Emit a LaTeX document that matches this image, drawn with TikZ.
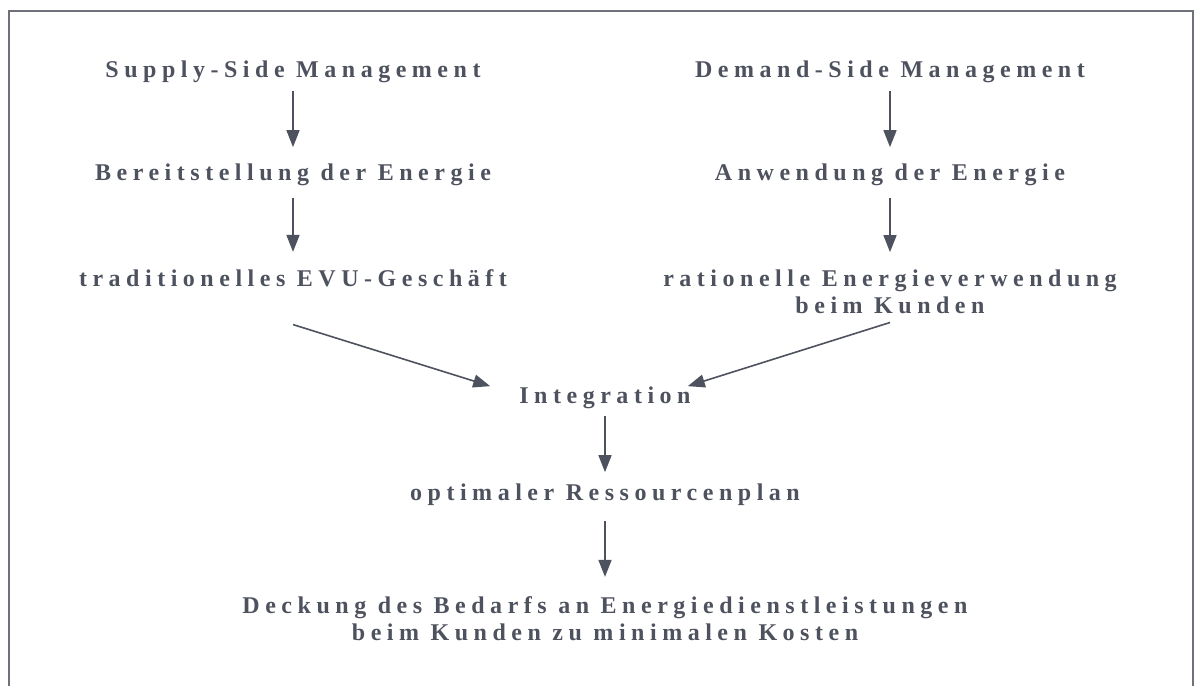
\documentclass[tikz,border=0pt]{standalone}
\usepackage{fontspec}
\setmainfont{Liberation Serif}
\newfontfamily\lsfont[LetterSpace=23]{Liberation Serif}
\usetikzlibrary{arrows.meta}
\definecolor{ink}{RGB}{78,82,94}
\definecolor{frame}{RGB}{110,112,122}
\begin{document}
\begin{tikzpicture}[x=1pt,y=-1pt,
  lbl/.style={anchor=base, inner sep=0pt, text=ink, align=center,
    font=\lsfont\bfseries\fontsize{24}{27}\selectfont},
  arr/.style={draw=ink, line width=1.6pt, -{Triangle[length=17pt,width=13pt]}}]
\useasboundingbox (0,0) rectangle (1196,686);
\draw[frame, line width=1.4pt] (9,686) -- (9,11) -- (1193,11) -- (1193,686);

\node[lbl] (s1) at (293,77) {Supply-Side Management};
\node[lbl] (d1) at (890,77) {Demand-Side Management};
\node[lbl] (s2) at (293,180) {Bereitstellung der Energie};
\node[lbl] (d2) at (890,180) {Anwendung der Energie};
\node[lbl] (s3) at (293,286) {traditionelles EVU-Geschäft};
\node[lbl] (d3) at (890,313) {rationelle Energieverwendung\\beim Kunden};
\node[lbl] (in) at (605,403) {Integration};
\node[lbl] (op) at (605,500) {optimaler Ressourcenplan};
\node[lbl] (de) at (605,640) {Deckung des Bedarfs an Energiedienstleistungen\\beim Kunden zu minimalen Kosten};

\draw[arr, shorten <=8pt, shorten >=16pt] (s1.south) -- (s2.north);
\draw[arr, shorten <=8pt, shorten >=16pt] (d1.south) -- (d2.north);
\draw[arr, shorten <=12pt, shorten >=17pt] (s2.south) -- (s3.north);
\draw[arr, shorten <=12pt, shorten >=17pt] (d2.south) -- (d3.north);
\draw[arr] ([yshift=-38pt]s3.south) -- ([xshift=-29pt]in.north west);
\draw[arr] ([yshift=-9pt]d3.south) -- ([xshift=-3pt]in.north east);
\draw[arr, shorten <=7pt, shorten >=11pt] (in.south) -- (op.north);
\draw[arr, shorten <=16pt, shorten >=19pt] (op.south) -- (de.north);
\end{tikzpicture}
\end{document}
